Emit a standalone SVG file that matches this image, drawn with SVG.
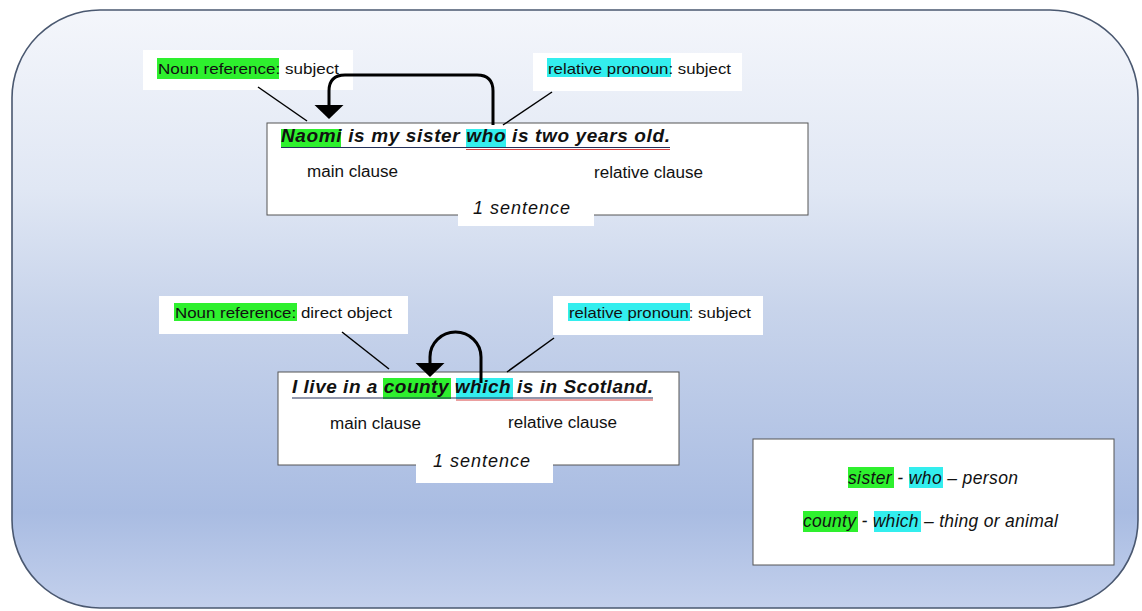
<svg xmlns="http://www.w3.org/2000/svg" width="1142" height="611" viewBox="0 0 1142 611">
  <defs>
    <linearGradient id="panelFill" gradientUnits="userSpaceOnUse" x1="0" y1="10" x2="0" y2="608">
      <stop offset="0" stop-color="#f4f6fb"/>
      <stop offset="0.3" stop-color="#e0e7f4"/>
      <stop offset="0.5" stop-color="#c8d4eb"/>
      <stop offset="0.84" stop-color="#a9bce2"/>
      <stop offset="1" stop-color="#c3d0ec"/>
    </linearGradient>
    <marker id="head" markerUnits="userSpaceOnUse" markerWidth="16" markerHeight="32" viewBox="0 -16 16 32" refX="0" refY="0" orient="auto">
      <path d="M0,-14.5 L14,0 L0,14.5 z" fill="#000"/>
    </marker>
    <style>
      .panel { fill: url(#panelFill); stroke: #4a5870; stroke-width: 1.6; }
      .box { fill: #fff; stroke: #555; stroke-width: 1; }
      .tag { fill: #fff; }
      .green { fill: #2ef02e; }
      .cyan { fill: #33eeee; }
      .sent { font-family: "Liberation Sans", Arial, sans-serif; font-weight: bold; font-style: italic; font-size: 19px; fill: #111; }
      .lbl { font-family: "Liberation Sans", Arial, sans-serif; font-size: 15px; fill: #111; }
      .cl { font-family: "Liberation Sans", Arial, sans-serif; font-size: 16px; fill: #111; }
      .one { font-family: "Liberation Sans", Arial, sans-serif; font-style: italic; font-size: 18px; fill: #111; }
      .leg { font-family: "Liberation Sans", Arial, sans-serif; font-style: italic; font-size: 17.5px; fill: #111; }
      .ul { stroke: #23305a; stroke-width: 1.2; }
      .ulr { stroke: #d84040; stroke-width: 1.2; }
      .ptr { stroke: #000; stroke-width: 1.5; fill: none; }
      .arr { stroke: #000; stroke-width: 3; fill: none; marker-end: url(#head); }
    </style>
  </defs>

  <!-- background panel -->
  <rect class="panel" x="12" y="10" width="1126" height="598" rx="88" ry="88"/>

  <!-- sentence 1 -->
  <g id="sentence1">
    <rect class="box" x="267" y="123" width="541" height="92"/>
    <rect class="green" x="281" y="129" width="60" height="19"/>
    <rect class="cyan" x="466" y="129" width="40" height="19"/>
    <text class="sent" x="281" y="142" textLength="389" lengthAdjust="spacing">Naomi is my sister who is two years old.</text>
    <line class="ul" x1="281" y1="147.5" x2="670" y2="147.5"/>
    <line class="ulr" x1="466" y1="149.5" x2="670" y2="149.5"/>
    <text class="cl" x="307" y="177" textLength="91" lengthAdjust="spacingAndGlyphs">main clause</text>
    <text class="cl" x="594" y="178" textLength="109" lengthAdjust="spacingAndGlyphs">relative clause</text>
    <rect class="tag" x="458" y="197" width="136" height="29"/>
    <text class="one" x="473" y="214" textLength="97" lengthAdjust="spacing">1 sentence</text>
  </g>

  <g id="label-noun1">
    <rect class="tag" x="143" y="50" width="210" height="40"/>
    <rect class="green" x="157" y="58" width="122" height="21"/>
    <text class="lbl" x="158" y="74" textLength="181" lengthAdjust="spacingAndGlyphs">Noun reference: subject</text>
  </g>

  <g id="label-pron1">
    <rect class="tag" x="533" y="53" width="209" height="38"/>
    <rect class="cyan" x="547" y="58" width="124" height="19"/>
    <text class="lbl" x="548" y="74" textLength="183" lengthAdjust="spacingAndGlyphs">relative pronoun: subject</text>
  </g>

  <!-- sentence 2 -->
  <g id="sentence2">
    <rect class="box" x="278" y="372" width="401" height="93"/>
    <rect class="green" x="383" y="378" width="68" height="21"/>
    <rect class="cyan" x="456" y="378" width="57" height="21"/>
    <text class="sent" x="292" y="393" textLength="361" lengthAdjust="spacing">I live in a county which is in Scotland.</text>
    <line class="ul" x1="292" y1="398" x2="653" y2="398"/>
    <line class="ulr" x1="456" y1="400" x2="653" y2="400"/>
    <text class="cl" x="330" y="429" textLength="91" lengthAdjust="spacingAndGlyphs">main clause</text>
    <text class="cl" x="508" y="428" textLength="109" lengthAdjust="spacingAndGlyphs">relative clause</text>
    <rect class="tag" x="416" y="455" width="137" height="28"/>
    <text class="one" x="433" y="467" textLength="97" lengthAdjust="spacing">1 sentence</text>
  </g>

  <g id="label-noun2">
    <rect class="tag" x="159" y="296" width="249" height="38"/>
    <rect class="green" x="174" y="303" width="123" height="18"/>
    <text class="lbl" x="175" y="318" textLength="217" lengthAdjust="spacingAndGlyphs">Noun reference: direct object</text>
  </g>

  <g id="label-pron2">
    <rect class="tag" x="553" y="296" width="210" height="39"/>
    <rect class="cyan" x="568" y="303" width="122" height="18"/>
    <text class="lbl" x="569" y="318" textLength="182" lengthAdjust="spacingAndGlyphs">relative pronoun: subject</text>
  </g>

  <!-- legend -->
  <g id="legend">
    <rect class="box" x="753" y="439" width="361" height="126"/>
    <rect class="green" x="848" y="467" width="46" height="21"/>
    <rect class="cyan" x="909" y="467" width="34" height="21"/>
    <text class="leg" x="933" y="484" text-anchor="middle" textLength="170" lengthAdjust="spacing">sister - who – person</text>
    <rect class="green" x="803" y="511" width="55" height="21"/>
    <rect class="cyan" x="874" y="511" width="47" height="21"/>
    <text class="leg" x="930.5" y="527" text-anchor="middle" textLength="255" lengthAdjust="spacing">county - which – thing or animal</text>
  </g>

  <!-- connectors -->
  <g id="connectors">
    <line class="ptr" x1="258" y1="87" x2="307" y2="121"/>
    <line class="ptr" x1="552" y1="92" x2="503" y2="125"/>
    <line class="ptr" x1="342" y1="332" x2="389" y2="369"/>
    <line class="ptr" x1="554" y1="338" x2="507" y2="372"/>
    <path class="arr" d="M493,125 V91 Q493,75 477,75 H345 Q329,75 329,91 V105"/>
    <path class="arr" d="M481,383 V357 A25.5,25 0 0 0 430,357 V363"/>
  </g>
</svg>
